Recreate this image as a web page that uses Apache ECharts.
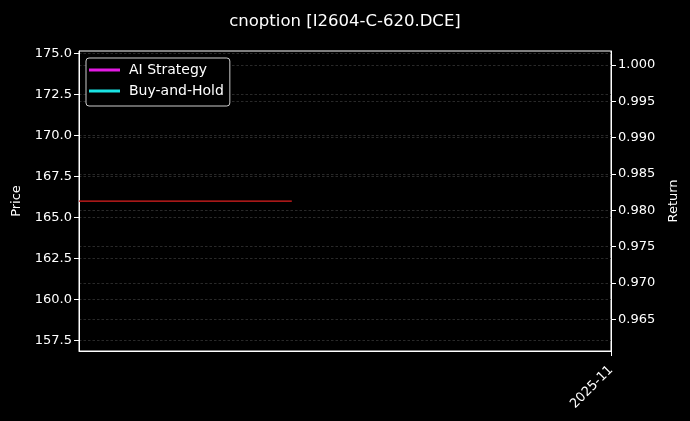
<!DOCTYPE html>
<html>
<head>
<meta charset="utf-8">
<script src="https://cdn.jsdelivr.net/npm/echarts@6/dist/echarts.min.js"></script>
<style>
html,body{margin:0;padding:0;background:#000;}
#chart{width:690px;height:421px;}
</style>
</head>
<body>
<div id="chart"></div>
<script>
// ---- data ----
const categories = ['2025-10-22','2025-10-23','2025-10-24','2025-10-25','2025-10-26','2025-10-27','2025-10-28','2025-10-29','2025-10-30','2025-10-31','2025-11-01'];
const priceValues = [166, 166, 166, 166, 166, null, null, null, null, null, null];
const aiStrategyValues = [];
const buyHoldValues = [];
const priceTicks = [157.5, 160.0, 162.5, 165.0, 167.5, 170.0, 172.5, 175.0];
const returnTicks = [0.965, 0.970, 0.975, 0.980, 0.985, 0.990, 0.995, 1.000];
const xTickLabels = {'2025-11-01': '2025-11'};

const font = 'DejaVu Sans';
const chart = echarts.init(document.getElementById('chart'));
const lastIdx = categories.length - 1;
const splitStyle = {show: true, lineStyle: {color: '#333333', type: [2.5, 2], width: 0.8}};

chart.setOption({
  backgroundColor: '#000',
  animation: false,
  title: {
    text: 'cnoption [I2604-C-620.DCE]',
    left: 'center', top: 8,
    textStyle: {color: '#fff', fontFamily: font, fontSize: 16.5, fontWeight: 'normal'}
  },
  legend: {
    orient: 'vertical', left: 86, top: 58,
    padding: [5, 6, 8, 3],
    itemGap: 7, itemWidth: 31, itemHeight: 3,
    backgroundColor: '#000', borderColor: '#cccccc', borderWidth: 1, borderRadius: 3,
    textStyle: {color: '#fff', fontFamily: font, fontSize: 14, padding: [0, 0, 0, 4]},
    data: [{name: 'AI Strategy', icon: 'rect'}, {name: 'Buy-and-Hold', icon: 'rect'}]
  },
  grid: {left: 79, right: 79, top: 51, bottom: 70, show: true, borderColor: '#fff', borderWidth: 1, backgroundColor: 'transparent'},
  xAxis: {
    type: 'category', data: categories, boundaryGap: false,
    axisLine: {show: true, lineStyle: {color: '#fff', width: 1}},
    axisTick: {show: true, length: 5, lineStyle: {color: '#fff'}, interval: (i) => i === lastIdx},
    axisLabel: {
      color: '#fff', fontFamily: font, fontSize: 13, rotate: 45, margin: 17,
      interval: (i) => i === lastIdx,
      formatter: (v) => xTickLabels[v] || ''
    },
    splitLine: {show: false}
  },
  yAxis: [
    {
      type: 'value', position: 'left', min: 156.85, max: 175.16,
      name: 'Price', nameLocation: 'middle', nameGap: 56,
      nameTextStyle: {color: '#fff', fontFamily: font, fontSize: 13},
      axisLine: {show: true, lineStyle: {color: '#fff'}},
      axisTick: {show: true, length: 5, lineStyle: {color: '#fff'}, customValues: priceTicks},
      axisLabel: {color: '#fff', fontFamily: font, fontSize: 13, margin: 7, customValues: priceTicks, formatter: (v) => v.toFixed(1)},
      splitLine: splitStyle
    },
    {
      type: 'value', position: 'right', min: 0.96064, max: 1.00193,
      name: 'Return', nameLocation: 'middle', nameGap: 56,
      nameTextStyle: {color: '#fff', fontFamily: font, fontSize: 13},
      axisLine: {show: true, lineStyle: {color: '#fff'}},
      axisTick: {show: true, length: 5, lineStyle: {color: '#fff'}, customValues: returnTicks},
      axisLabel: {color: '#fff', fontFamily: font, fontSize: 13, margin: 7, customValues: returnTicks, formatter: (v) => v.toFixed(3)},
      splitLine: splitStyle
    }
  ],
  series: [
    {name: 'Price', type: 'line', yAxisIndex: 0, data: priceValues, showSymbol: false, lineStyle: {color: '#e02020', width: 1.3}, itemStyle: {color: '#e02020'}},
    {name: 'AI Strategy', type: 'line', yAxisIndex: 1, data: aiStrategyValues, showSymbol: false, lineStyle: {color: '#e31ae3', width: 2}, itemStyle: {color: '#e31ae3'}},
    {name: 'Buy-and-Hold', type: 'line', yAxisIndex: 1, data: buyHoldValues, showSymbol: false, lineStyle: {color: '#1ae3e3', width: 2}, itemStyle: {color: '#1ae3e3'}}
  ]
});
</script>
</body>
</html>
